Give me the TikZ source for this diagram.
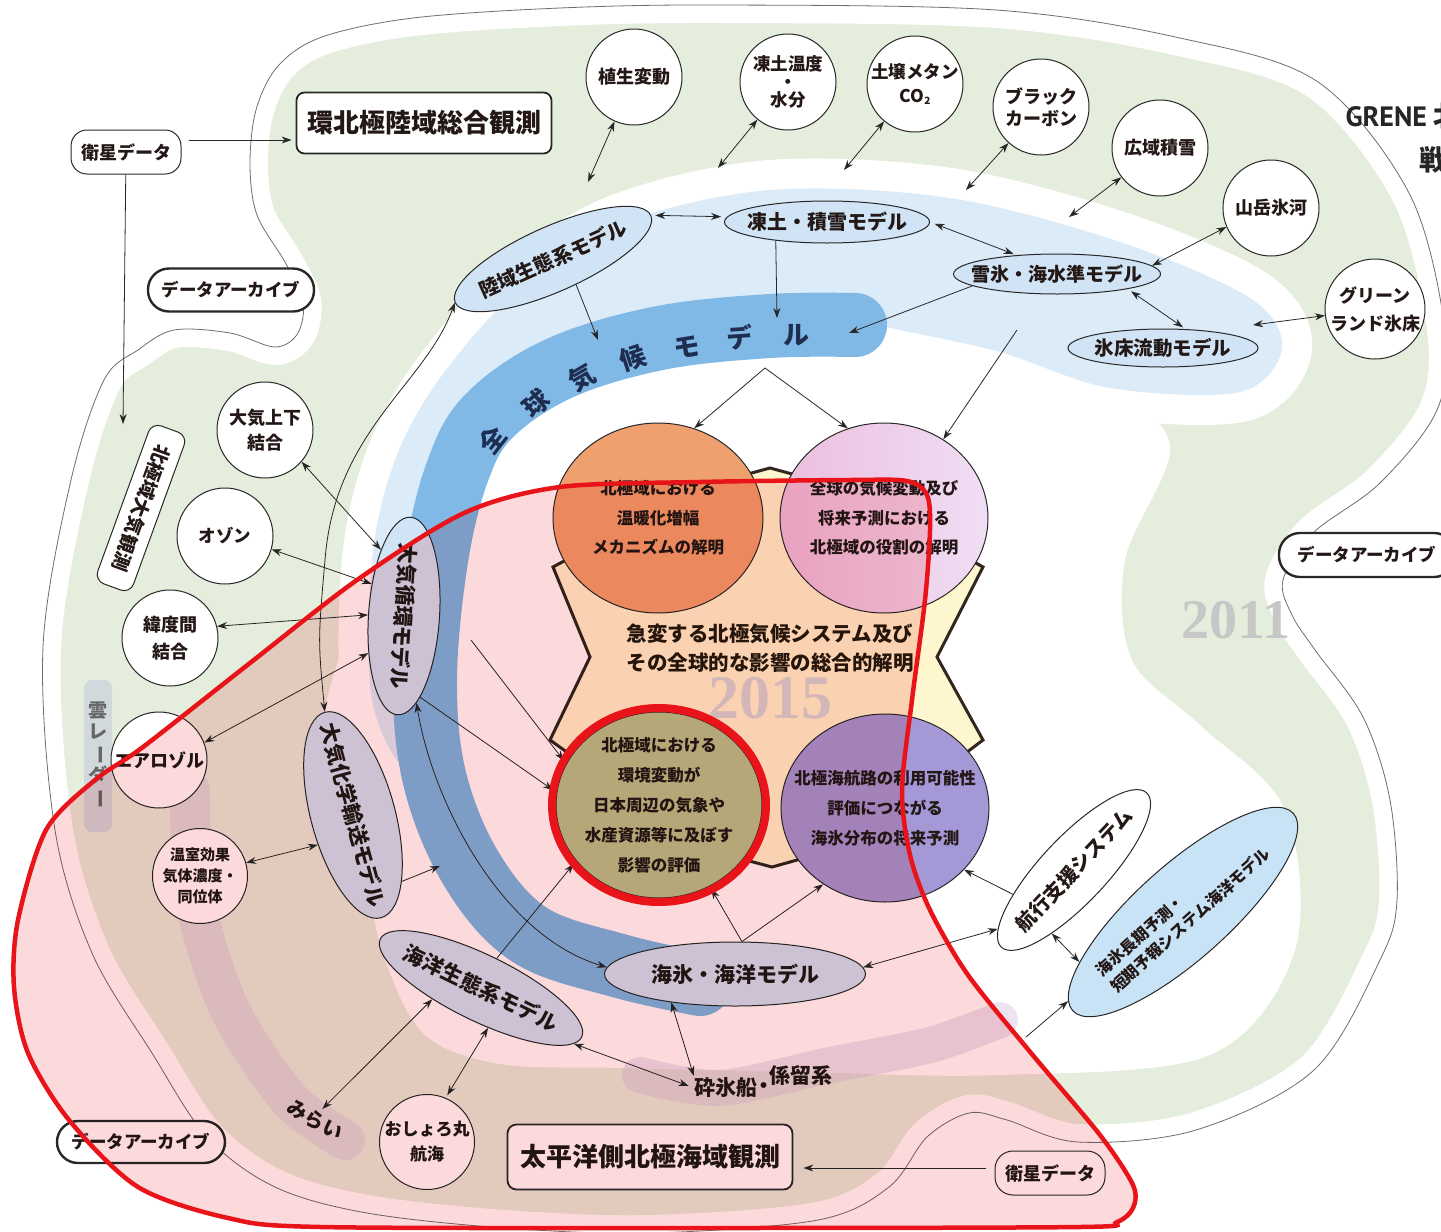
\documentclass[tikz,border=0pt]{standalone}
\usepackage{fontspec}
\setmainfont{Noto Sans CJK JP}
\newfontfamily\numfont{Liberation Serif}
\newfontfamily\grenefont{PT Sans}
\usetikzlibrary{arrows.meta,shapes.geometric}
\newcommand\fs[2]{\fontsize{#1}{#2}\selectfont\bfseries}
\definecolor{greenbg}{RGB}{229,237,220}
\definecolor{lbluebg}{RGB}{220,235,248}
\definecolor{blueband}{RGB}{128,184,230}
\definecolor{ellfill}{RGB}{208,228,246}
\definecolor{chfill}{RGB}{200,226,246}
\definecolor{pinkov}{RGB}{252,218,220}
\definecolor{redline}{RGB}{232,20,26}
\definecolor{txtc}{RGB}{35,24,21}
\definecolor{linec}{RGB}{40,40,40}
\definecolor{outerc}{RGB}{110,110,110}
\definecolor{crossfill}{RGB}{254,246,206}
\definecolor{crossline}{RGB}{50,38,30}
\definecolor{tlfill}{RGB}{238,160,110}
\definecolor{trleft}{RGB}{236,190,222}
\definecolor{trright}{RGB}{240,222,244}
\definecolor{blfill}{RGB}{184,196,138}
\definecolor{brfill}{RGB}{165,152,215}
\definecolor{mauve}{RGB}{214,196,222}
\definecolor{radar}{RGB}{196,204,222}
\definecolor{navytxt}{RGB}{30,45,80}
\newcommand\mycirc[5][]{\node[circ,#1] (#2) at (#3) {};\node[txt,font=#4] at (#2) {#5};}
\newcommand\myell[8][]{\node[ell,minimum width=#4,minimum height=#5,rotate=#6,#1] (#2) at (#3) {};\node[txt,rotate=#6,font=#7] at (#2) {#8};}
\begin{document}
\begin{tikzpicture}[x=1pt,y=-1pt,
 ln/.style={draw=linec,line width=0.8pt},
 arr/.style={ln,-{Stealth[length=10pt,width=7pt]}},
 dbl/.style={ln,{Stealth[length=10pt,width=7pt]}-{Stealth[length=10pt,width=7pt]}},
 circ/.style={circle,draw=linec,line width=1pt,fill=white,minimum size=96pt,inner sep=0pt},
 ell/.style={ellipse,draw=linec,line width=1pt,fill=ellfill,inner sep=0pt},
 rbox/.style={rectangle,rounded corners=#1,draw=linec,fill=white,text=txtc,inner sep=0pt,align=center},
 rbox/.default=14pt,
 txt/.style={align=center,text=txtc,inner sep=0pt},
 bigc/.style={ellipse,draw=linec,line width=1pt,inner sep=0pt}]
\useasboundingbox (0,0) rectangle (1441,1232);
\fill[white] (0,0) rectangle (1441,1232);
% ---------- backgrounds
\def\outerpath{plot[smooth cycle,tension=0.55] coordinates {(303,300) (285,262) (257,215) (250,165) (256,110) (278,66) (322,37) (413,18) (560,8) (720,5) (996,10) (1180,38) (1318,82) (1410,195) (1445,330) (1437,410) (1380,483) (1313,533) (1283,580) (1292,615) (1315,650) (1363,717) (1390,800) (1397,900) (1380,960) (1314,1070) (1196,1130) (1078,1142) (1007,1120) (969,1113) (927,1137) (889,1187) (818,1220) (650,1233) (505,1228) (367,1213) (275,1187) (207,1137) (152,1053) (92,953) (55,830) (43,647) (71,480) (104,380) (138,350) (174,330) (230,333) (275,347) (298,333)}}
\fill[greenbg] \outerpath;
\draw[white,line width=36pt] \outerpath;
\fill[white] plot[smooth cycle,tension=0.55] coordinates {(770,300) (960,320) (1100,385) (1170,445) (1125,560) (1132,660) (1200,725) (1285,810) (1295,950) (1210,1055) (1000,1075) (800,1072) (620,1068) (500,1064) (425,1035) (385,960) (360,860) (320,760) (345,640) (420,470) (520,350) (640,305)};
\def\lbpath{plot[smooth cycle,tension=0.55] coordinates {(410,770) (372,700) (372,560) (395,460) (440,378) (520,288) (620,224) (770,190) (950,198) (1120,242) (1250,298) (1282,348) (1240,392) (1110,388) (1000,352) (900,330) (770,302) (640,318) (540,372) (480,460) (455,580) (450,700)}}
\draw[white,line width=60pt] \lbpath;
\fill[lbluebg] \lbpath;
\draw[blueband,line width=64pt,line cap=round] plot[smooth,tension=0.6] coordinates {(855,325) (770,326) (660,338) (560,368) (490,415) (458,470) (436,560) (425,680) (435,780) (472,870) (530,935) (620,966) (700,984)};
\draw[mauve,line width=40pt,line cap=round,opacity=0.45] plot[smooth] coordinates {(190,790) (195,900) (230,1010) (290,1100) (345,1140)};
\draw[mauve,line width=36pt,line cap=round,opacity=0.45] plot[smooth] coordinates {(640,1075) (720,1088) (830,1065) (930,1045) (1000,1020)};
\fill[radar,rounded corners=8pt,opacity=0.6] (84,680) rectangle (112,832);
\draw[outerc,line width=0.8pt] \outerpath;
% ---------- 全球気候モデル
\foreach \ch/\x/\y/\r in {全/492/440/52,球/536/404/40,気/582/378/30,候/633/358/18,モ/687/347/9,デ/740/337/4,ル/796/335/0}
  \node[rotate=\r,font=\fs{26}{26},text=navytxt] at (\x,\y) {\ch};
% ---------- centre
\draw[crossline,line width=3pt,fill=crossfill,line join=miter] (553,567) -- (700,487) -- (770,468) -- (840,487) -- (983,567) -- (937,657) -- (983,740) -- (840,848) -- (772,867) -- (700,848) -- (550,740) -- (590,657) -- cycle;
\node[text=black!16,font=\numfont\bfseries\fontsize{62}{62}\selectfont] (y2015) at (770,698) {2015};
\node[text=black!22,font=\numfont\bfseries\fontsize{56}{56}\selectfont] (y2011) at (1236,620) {2011};
\node[bigc,fill=tlfill,minimum width=210pt,minimum height=190pt] (tl) at (658,518) {};
\node[bigc,left color=trleft,right color=trright,minimum width=208pt,minimum height=190pt] (tr) at (884,518) {};
\node[bigc,fill=blfill,minimum width=206pt,minimum height=186pt] (bl) at (659,805) {};
\node[bigc,fill=brfill,minimum width=208pt,minimum height=188pt] (br) at (885,808) {};
\node[txt,font=\fs{16.5}{29.5}] at (tl) {北極域における\\温暖化増幅\\メカニズムの解明};
\node[txt,font=\fs{16.5}{29.5}] at (tr) {全球の気候変動及び\\将来予測における\\北極域の役割の解明};
\node[txt,font=\fs{16.5}{30}] at (bl) {北極域における\\環境変動が\\日本周辺の気象や\\水産資源等に及ぼす\\影響の評価};
\node[txt,font=\fs{16.5}{30}] at (br) {北極海航路の利用可能性\\評価につながる\\海氷分布の将来予測};
\node[txt,font=\fs{20.5}{29},text=black!80!brown] (goal) at (770,648) {急変する北極気候システム及び\\その全球的な影響の総合的解明};
% ---------- boxes
\node[rbox=16pt,line width=1pt,minimum width=110pt,minimum height=44pt,font=\fs{18}{20}] (sat1) at (126,152) {衛星データ};
\node[rbox=8pt,line width=1.8pt,minimum width=255pt,minimum height=61pt,font=\fs{26}{28}] (kan) at (424,123) {環北極陸域総合観測};
\node[rbox=21pt,line width=2.4pt,minimum width=166pt,minimum height=43pt,font=\fs{17.5}{20}] (arch1) at (231,290) {データアーカイブ};
\node[rbox=21pt,line width=2.4pt,minimum width=176pt,minimum height=44pt,font=\fs{17.5}{20}] (arch2) at (1367,555) {データアーカイブ};
\node[rbox=21pt,line width=2.4pt,minimum width=168pt,minimum height=42pt,font=\fs{17.5}{20}] (arch3) at (141,1142) {データアーカイブ};
\node[rbox=9pt,line width=1.8pt,minimum width=285pt,minimum height=65pt,font=\fs{26}{28}] (taihei) at (650,1157) {太平洋側北極海域観測};
\node[rbox=18pt,line width=1pt,minimum width=110pt,minimum height=44pt,font=\fs{18}{20}] (sat2) at (1050,1173) {衛星データ};
\node[rbox=10pt,line width=1pt,minimum width=168pt,minimum height=38pt,rotate=-110,font=\fs{19}{20}] (kyoku) at (141,508) {北極域大気観測};
% ---------- circles
\mycirc{shoku}{634,77}{\fs{18}{22}}{植生変動}
\mycirc{totoon}{788,82}{\fs{17.5}{18}}{凍土温度\\・\\水分}
\mycirc{dojo}{915,84}{\fs{17.5}{24}}{土壌メタン\\CO\raisebox{-2pt}{\fontsize{10}{10}\selectfont 2}}
\mycirc{bc}{1041,107}{\fs{18}{22}}{ブラック\\カーボン}
\mycirc{koiki}{1160,148}{\fs{18}{22}}{広域積雪}
\mycirc{sangaku}{1271,208}{\fs{18}{22}}{山岳氷河}
\mycirc[minimum size=100pt]{green}{1375,309}{\fs{18}{28}}{グリーン\\ランド氷床}
\mycirc{jouge}{265,430}{\fs{18}{25}}{大気上下\\結合}
\mycirc{ozon}{225,536}{\fs{17.5}{22}}{オゾン}
\mycirc{ido}{170,638}{\fs{18}{27}}{緯度間\\結合}
\mycirc{aero}{159,760}{\fs{18}{22}}{エアロゾル}
\mycirc[minimum size=95pt]{onshitsu}{200,876}{\fs{15}{21}}{温室効果\\気体濃度・\\同位体}
\mycirc[minimum size=95pt]{oshoro}{427,1142}{\fs{17}{25}}{おしょろ丸\\航海}
% ---------- model ellipses
\myell{rikuiki}{553,259}{214pt}{65pt}{24}{\fs{20}{22}}{陸域生態系モデル}
\myell{totoseki}{827,222}{205pt}{42pt}{0}{\fs{20}{22}}{凍土・積雪モデル}
\myell{setsu}{1057,274}{207pt}{40pt}{0}{\fs{19}{22}}{雪氷・海水準モデル}
\myell{hyosho}{1163,348}{190pt}{38pt}{0}{\fs{19.5}{22}}{氷床流動モデル}
\myell{junkan}{404,616}{198pt}{71pt}{-93.8}{\fs{21}{22}}{大気循環モデル}
\myell{kagaku}{353,815}{213pt}{84pt}{-74.7}{\fs{21}{22}}{大気化学輸送モデル}
\myell{kaiyo}{481,988}{224pt}{66pt}{-26}{\fs{21}{22}}{海洋生態系モデル}
\myell{kaihyo}{735,974}{261pt}{64pt}{0}{\fs{21}{22}}{海氷・海洋モデル}
\myell[fill=white]{kouko}{1074,870}{212pt}{66pt}{46.7}{\fs{20}{22}}{航行支援システム}
\node[ell,fill=chfill,minimum width=296pt,minimum height=94pt,rotate=41.8] (chouki) at (1183,912) {};
\node[txt,align=left,rotate=41.8,font=\fs{16}{22}] at (chouki) {海氷長期予測・\\短期予報システム海洋モデル};
% ---------- plain labels
\node[txt,font=\fs{21}{22}] (saihyo) at (726,1088) {砕氷船};
\node[txt,font=\fs{21}{22}] (dot) at (764,1088) {・};
\node[txt,font=\fs{21}{22}] (keiryu) at (801,1075) {係留系};
\node[txt,rotate=-29,font=\fs{20}{22}] (mirai) at (315,1120) {みらい};
\node[txt,text=black!60,font=\fs{19}{21}] (radar) at (98,755) {雲\\レ\\\rotatebox[origin=c]{-90}{ー}\\ダ\\\rotatebox[origin=c]{-90}{ー}};
\node[anchor=west,text=black!85,font=\fs{28}{30}] (grene) at (1342,116) {{\grenefont\bfseries GRENE} 北};
\node[anchor=west,text=black!85,font=\fs{28}{30}] (sen) at (1416,160) {戦};
% ---------- free ends
\coordinate (f1) at (588,182);
\coordinate (f2) at (718,168);
\coordinate (f3) at (844,170);
\coordinate (f4) at (966,190);
\coordinate (f5) at (1069,217);
\coordinate (f6) at (1253,325);
\coordinate (g1) at (777,318);
\coordinate (g2) at (849,333);
\coordinate (g3) at (598,340);
\coordinate (vtop) at (765,368);
\coordinate (g4) at (1017,330);
\coordinate (satend) at (123,424);
\coordinate (g5) at (440,866);
\coordinate (g6) at (471,640);
\coordinate (g7) at (1026,1037);
% ---------- connectors
\draw[arr,shorten <=7pt,shorten >=4pt] ([yshift=12pt]sat1.east) -- ([yshift=-17pt]kan.west);
\draw[arr] (sat1) -- (satend);
\draw[dbl] (shoku) -- (f1);
\draw[dbl] (totoon) -- (f2);
\draw[dbl] (dojo) -- (f3);
\draw[dbl] (bc) -- (f4);
\draw[dbl] (koiki) -- (f5);
\draw[dbl] (green) -- (f6);
\draw[dbl] (sangaku.-157) -- (setsu.5);
\draw[dbl,shorten <=6pt,shorten >=4pt] (totoseki.177) -- (rikuiki.east);
\draw[dbl,shorten <=5pt,shorten >=3pt] (totoseki.east) -- (setsu.155);
\draw[dbl,shorten <=4pt,shorten >=3pt] (setsu.-12) -- (hyosho.40);
\draw[arr] (totoseki.-160) -- (g1);
\draw[arr] (setsu.-172) -- (g2);
\draw[arr] (rikuiki.-72) -- (g3);
\draw[arr] (vtop) -- (tl.68);
\draw[arr] (vtop) -- (tr.112);
\draw[arr] (g4) -- (tr.53);
\draw[dbl] (jouge.-41) -- (junkan.203);
\draw[dbl] (ozon.-16) -- (junkan.229);
\draw[dbl] (ido.14) -- (junkan.272);
\draw[dbl] (aero.21) -- (junkan.320);
\draw[dbl] (onshitsu.16) -- (kagaku.295);
\draw[arr] (kagaku.21) -- (g5);
\draw[arr,shorten >=4pt] (junkan.15) -- (bl.173);
\draw[arr,shorten >=4pt] (g6) -- (bl.156);
\draw[arr,shorten >=4pt] (kaiyo.88) -- (bl.214);
\draw[arr,shorten >=3pt] (kaihyo.78) -- (bl.-58);
\draw[arr] (kaihyo.78) -- (br.231);
\draw[arr] (kouko.155) -- (br.-38);
\draw[dbl] (kaihyo.3) -- (kouko.171);
\draw[dbl] (kouko.204) -- (chouki.164);
\draw[arr] (g7) -- (chouki.176);
\draw[dbl,shorten >=2pt] (kaihyo.204) -- (saihyo.north west);
\draw[dbl,shorten >=6pt] (kaiyo.-5) -- (saihyo.west);
\draw[dbl,shorten >=4pt] (kaiyo.219) -- (mirai.north);
\draw[dbl,shorten >=3pt] (kaiyo.-54) -- (oshoro.67);
\draw[arr,shorten <=9pt,shorten >=10pt] ([yshift=5pt]sat2.west) -- ([yshift=-11pt]taihei.east);
\draw[dbl] (rikuiki.west) .. controls (425,385) and (335,430) .. (325,560) .. controls (318,640) .. (kagaku.west);
\draw[dbl] (junkan.12) .. controls (432,800) and (500,935) .. (kaihyo.177);
% ---------- pink overlay and red outline
\def\redpath{plot[smooth cycle,tension=0.5] coordinates {(560,487) (700,482) (850,480) (907,481) (927,495) (930,530) (925,600) (912,700) (902,790) (910,855) (930,910) (968,975) (1031,1053) (1100,1135) (1133,1185) (1133,1208) (1117,1222) (1080,1227) (700,1228) (321,1227) (228,1218) (138,1187) (69,1120) (28,1053) (14,987) (18,920) (46,830) (95,780) (143,747) (250,663) (357,580) (464,513)}}
\fill[pinkov,blend mode=multiply] \redpath;
\draw[redline,line width=4.5pt] \redpath;
\draw[redline,line width=8pt] (bl.center) ellipse [x radius=107,y radius=97];
\end{tikzpicture}
\end{document}
